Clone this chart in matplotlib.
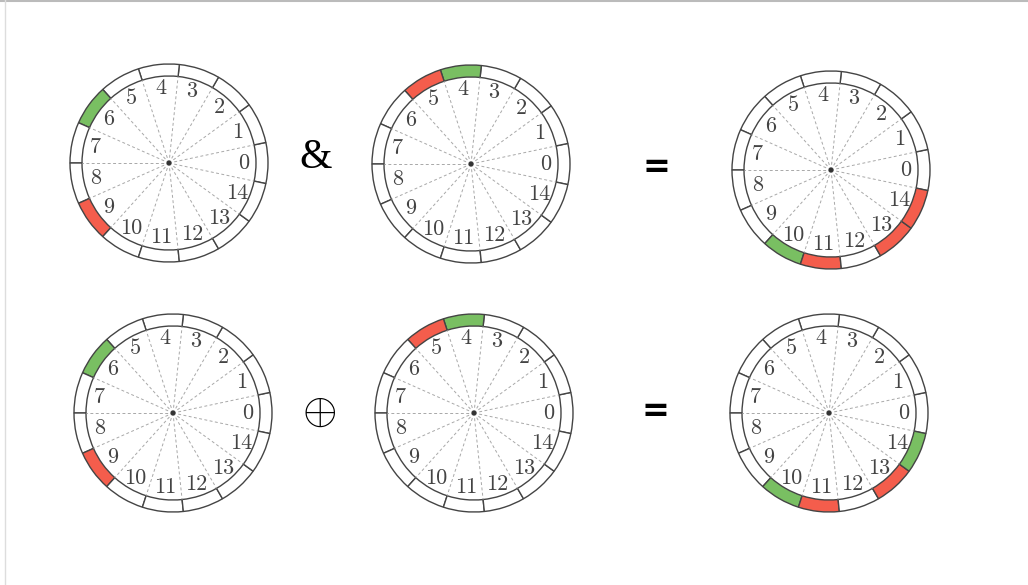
import numpy as np
import matplotlib
matplotlib.use("Agg")
import matplotlib.pyplot as plt
from matplotlib.patches import Wedge, Circle

plt.rcParams['mathtext.fontset'] = 'cm'

# 15 segments per dial, segment k centred at 24*k degrees
segments = list(range(15))

# dial centres in pixels (x, y from top)
dial_x = [169, 471, 831, 173, 474, 829]
dial_y = [163, 164, 170, 413, 413, 413]

# coloured ring segments for each dial
dial_green = [[6], [4], [10], [6], [4], [10, 14]]
dial_red = [[9], [5], [11, 13, 14], [9], [5], [11, 13]]

# operators between the dials
op_text = ['&', '=', r'$\oplus$', '=']
op_x = [316, 656, 319, 655]
op_y = [158, 168, 411, 411]

W, H = 1028, 585
GREEN = '#79bf62'
RED = '#f45d4c'
EDGE = '#444444'

fig = plt.figure(figsize=(W / 100, H / 100), dpi=100)
ax = fig.add_axes([0, 0, 1, 1])
ax.set_xlim(0, W)
ax.set_ylim(0, H)
ax.set_aspect('equal')
ax.axis('off')

r_out, r_in, r_lab = 99, 87, 75
step = 360 / len(segments)

for i in range(len(dial_x)):
    cx, cy = dial_x[i], H - dial_y[i]
    # outer ring
    for k in segments:
        col = 'white'
        if k in dial_green[i]:
            col = GREEN
        if k in dial_red[i]:
            col = RED
        w = Wedge((cx, cy), r_out, k * step - step / 2, k * step + step / 2,
                  width=r_out - r_in, facecolor=col, edgecolor=EDGE, lw=1.0)
        ax.add_patch(w)
    # dashed spokes
    for k in segments:
        a = np.deg2rad(k * step + step / 2)
        ax.plot([cx, cx + r_in * np.cos(a)], [cy, cy + r_in * np.sin(a)],
                color='#a8a8a8', lw=0.7, ls=(0, (3, 2.5)))
    ax.add_patch(Circle((cx, cy), 1.8, color='#333333', zorder=5))
    # labels
    for k in segments:
        a = np.deg2rad(k * step)
        ax.text(cx + r_lab * np.cos(a), cy + r_lab * np.sin(a), str(k),
                family='cmr10', fontsize=16, color='#444444',
                ha='center', va='center')

for t, x, y in zip(op_text, op_x, op_y):
    if t == '=':
        ax.text(x, H - y, t, fontsize=24, fontweight='bold', family='DejaVu Sans',
                ha='center', va='center', color='black')
    elif t == '&':
        ax.text(x, H - y, t, fontsize=30, family='Liberation Serif',
                ha='center', va='center', color='black')
    else:
        ax.text(x, H - y, t, fontsize=32, ha='center', va='center', color='black')

# page frame
ax.plot([0, W], [H - 0.5, H - 0.5], color='#bbbbbb', lw=1.5)
ax.plot([4.5, 4.5], [0, H], color='#dddddd', lw=1)

fig.savefig('out.png', dpi=100)
